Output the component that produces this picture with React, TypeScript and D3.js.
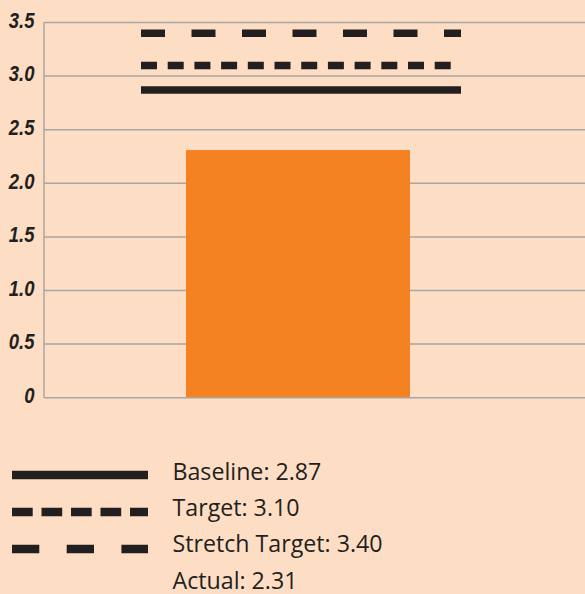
import React from "react";
import * as d3 from "d3";

const categories = ["Actual"];
const actualValues = [2.31];
const refNames = ["Baseline", "Target", "Stretch Target"];
const refValues = [2.87, 3.1, 3.4];
const yTicks = [0, 0.5, 1.0, 1.5, 2.0, 2.5, 3.0, 3.5];
const yTickLabels = ["0", "0.5", "1.0", "1.5", "2.0", "2.5", "3.0", "3.5"];
const legendLabels = ["Baseline: 2.87", "Target: 3.10", "Stretch Target: 3.40", "Actual: 2.31"];

const W = 585;
const H = 594;
const BG = "#FDDEC4";
const GRID = "#A8A6A4";
const INK = "#231F20";
const ORANGE = "#F58220";

const chartDash = ["", "16 10.7", "24 26.5"];
const legendDash = ["", "20.7 8.8", "27.3 27.4"];

export default function App() {
  const y = d3.scaleLinear().domain([0, 3.5]).range([397.7, 22.5]);
  const x = d3
    .scaleBand<string>()
    .domain(categories)
    .range([44, 552])
    .paddingInner(0)
    .paddingOuter(0.634);
  const bw = x.bandwidth();
  const x0 = x(categories[0]) as number;
  const lineX1 = x0 - 45;
  const lineX2 = x0 + bw + 51;

  const legendLineY = d3.scaleLinear().domain([0, 1]).range([475, 512]);
  const legendTextY = d3.scaleLinear().domain([0, 1]).range([480, 516.2]);

  return (
    <svg
      width={W}
      height={H}
      style={{ position: "absolute", left: 0, top: 0, display: "block" }}
    >
      <rect x={0} y={0} width={W} height={H} fill={BG} />
      {yTicks.map((t, i) => (
        <g key={t}>
          {t > 0 && (
            <line x1={44} x2={W} y1={y(t)} y2={y(t)} stroke={GRID} strokeWidth={1.5} />
          )}
          <text
            transform={`translate(34.5,${y(t) + 5.2}) scale(0.86,1)`}
            textAnchor="end"
            fontFamily="'Liberation Sans', Arial, sans-serif"
            fontWeight="bold"
            fontStyle="italic"
            fontSize={21.5}
            fill={INK}
          >
            {yTickLabels[i]}
          </text>
        </g>
      ))}
      {categories.map((c, i) => (
        <rect
          key={c}
          x={x(c)}
          width={bw}
          y={y(actualValues[i])}
          height={y(0) - y(actualValues[i])}
          fill={ORANGE}
        />
      ))}
      <line x1={44} x2={W} y1={y(0)} y2={y(0)} stroke={GRID} strokeWidth={1.5} />
      <line x1={44} x2={44} y1={y(3.5)} y2={y(0)} stroke={GRID} strokeWidth={1.5} />
      {refValues.map((v, i) => (
        <line
          key={refNames[i]}
          x1={lineX1}
          x2={lineX2}
          y1={y(v)}
          y2={y(v)}
          stroke={INK}
          strokeWidth={7.5}
          strokeDasharray={chartDash[i] || undefined}
        />
      ))}
      {refNames.map((n, i) => (
        <line
          key={n}
          x1={12}
          x2={148}
          y1={legendLineY(i)}
          y2={legendLineY(i)}
          stroke={INK}
          strokeWidth={8.5}
          strokeDasharray={legendDash[i] || undefined}
        />
      ))}
      {legendLabels.map((l, i) => (
        <text
          key={l}
          x={172.5}
          y={legendTextY(i)}
          fontFamily="'Open Sans', sans-serif"
          fontSize={23.2}
          fill={INK}
        >
          {l}
        </text>
      ))}
    </svg>
  );
}
